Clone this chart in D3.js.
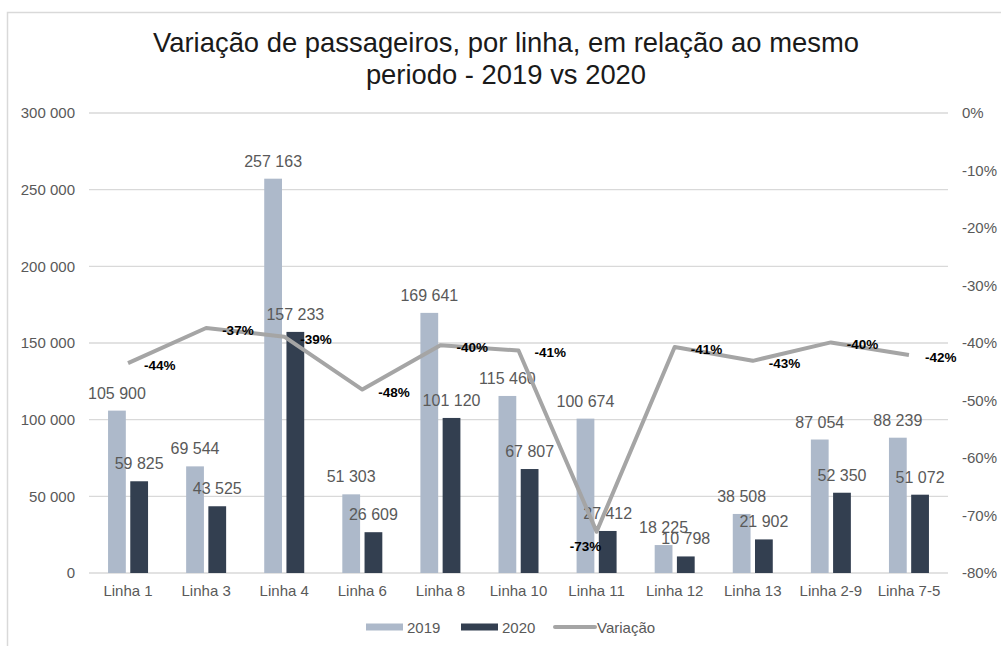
<!DOCTYPE html>
<html>
<head>
<meta charset="utf-8">
<script src="https://cdn.jsdelivr.net/npm/d3@7"></script>
<style>
  body { margin: 0; background: #fff; }
  svg { font-family: "Liberation Sans", Arial, sans-serif; }
  .tick text { fill: #595959; font-size: 15px; }
</style>
</head>
<body>
<div id="chart"></div>
<script>
// --- DADOS ---
const linhas = ["Linha 1", "Linha 3", "Linha 4", "Linha 6", "Linha 8", "Linha 10",
                "Linha 11", "Linha 12", "Linha 13", "Linha 2-9", "Linha 7-5"];
const pass2019 = [105900, 69544, 257163, 51303, 169641, 115460, 100674, 18225, 38508, 87054, 88239];
const pass2020 = [59825, 43525, 157233, 26609, 101120, 67807, 27412, 10798, 21902, 52350, 51072];
const variacao = [-0.435, -0.374, -0.389, -0.481, -0.404, -0.413, -0.728, -0.407, -0.431, -0.399, -0.421];
const ticksEsq = [0, 50000, 100000, 150000, 200000, 250000, 300000];
const ticksDir = [0, -0.1, -0.2, -0.3, -0.4, -0.5, -0.6, -0.7, -0.8];
const series = ["2019", "2020"];
const cores = { "2019": "#adb9ca", "2020": "#333f50", linha: "#a5a5a5" };

// --- CONFIGURAÇÃO ---
const W = 1001, H = 646;
const margin = { top: 113, right: 53, bottom: 73, left: 89 };
const width = W - margin.left - margin.right,
      height = H - margin.top - margin.bottom;

const svg = d3.select("#chart").append("svg")
    .attr("width", W)
    .attr("height", H);

// moldura
svg.append("rect")
    .attr("x", 7.5).attr("y", 12.5)
    .attr("width", 1200).attr("height", 800)
    .attr("fill", "none")
    .attr("stroke", "#d9d9d9")
    .attr("stroke-width", 1.5);

// título
const titulo = svg.append("text")
    .attr("text-anchor", "middle")
    .attr("font-size", 27.4)
    .attr("fill", "#1a1a1a");
titulo.append("tspan").attr("x", 506).attr("y", 52)
    .text("Variação de passageiros, por linha, em relação ao mesmo");
titulo.append("tspan").attr("x", 506).attr("y", 84)
    .text("periodo - 2019 vs 2020");

const g = svg.append("g")
    .attr("transform", `translate(${margin.left},${margin.top})`);

// --- ESCALAS ---
const x0 = d3.scaleBand().domain(linhas).range([0, width]);
const bw = x0.bandwidth();
const x1 = d3.scaleBand().domain(series)
    .range([bw / 2 - 20, bw / 2 + 20])
    .paddingInner(0.2);
const y = d3.scaleLinear().domain([0, 300000]).range([height, 0]);
const yDir = d3.scaleLinear().domain([-0.8, 0]).range([height, 0]);

// locale com hífen normal e espaço como separador de milhares
const loc = d3.formatLocale({ decimal: ",", thousands: " ", grouping: [3], currency: ["", ""], minus: "-" });
const fmtNum = loc.format(",");
const fmtPct = loc.format(".0%");

// --- EIXOS ---
const eixoEsq = g.append("g")
    .attr("transform", "translate(-14,0)")
    .call(d3.axisLeft(y).tickValues(ticksEsq).tickSize(0).tickPadding(0)
        .tickFormat(fmtNum));
eixoEsq.select(".domain").remove();

const eixoDir = g.append("g")
    .attr("transform", `translate(${width + 14},0)`)
    .call(d3.axisRight(yDir).tickValues(ticksDir).tickSize(0).tickPadding(0)
        .tickFormat(d => d === 0 ? "0%" : fmtPct(d)));
eixoDir.select(".domain").remove();

// grelha
g.append("g").selectAll("line")
  .data(ticksEsq)
  .enter().append("line")
    .attr("x1", 0).attr("x2", width)
    .attr("y1", d => y(d)).attr("y2", d => y(d))
    .attr("stroke", "#d9d9d9")
    .attr("stroke-width", 1.3);

const eixoX = g.append("g")
    .attr("transform", `translate(0,${height})`)
    .call(d3.axisBottom(x0).tickSize(0).tickPadding(12));
eixoX.select(".domain").remove();

// --- BARRAS ---
const dados = linhas.map((l, i) => ({ linha: l, "2019": pass2019[i], "2020": pass2020[i], v: variacao[i] }));

const grupos = g.selectAll(".grupo")
  .data(dados)
  .enter().append("g")
    .attr("transform", d => `translate(${x0(d.linha)},0)`);

grupos.selectAll("rect")
  .data(d => series.map(s => ({ s, val: d[s] })))
  .enter().append("rect")
    .attr("x", d => x1(d.s))
    .attr("width", x1.bandwidth())
    .attr("y", d => y(d.val))
    .attr("height", d => height - y(d.val))
    .attr("fill", d => cores[d.s]);

// --- LINHA ---
const cx = d => x0(d.linha) + bw / 2;
g.append("path")
    .datum(dados)
    .attr("fill", "none")
    .attr("stroke", cores.linha)
    .attr("stroke-width", 4)
    .attr("stroke-linejoin", "round")
    .attr("d", d3.line().x(cx).y(d => yDir(d.v)));

// rótulos das barras
grupos.selectAll(".rot")
  .data(d => series.map(s => ({ s, val: d[s] })))
  .enter().append("text")
    .attr("x", d => x1(d.s) + x1.bandwidth() / 2)
    .attr("y", d => y(d.val) - 12)
    .attr("text-anchor", "middle")
    .attr("font-size", 16)
    .attr("fill", "#595959")
    .text(d => fmtNum(d.val));

// rótulos da variação
const minV = d3.min(variacao);
g.selectAll(".rotv")
  .data(dados)
  .enter().append("text")
    .attr("x", d => d.v === minV ? cx(d) - 11 : cx(d) + 16)
    .attr("y", d => yDir(d.v) + (d.v === minV ? 19 : 7))
    .attr("text-anchor", d => d.v === minV ? "middle" : "start")
    .attr("font-size", 13.5)
    .attr("font-weight", "bold")
    .attr("fill", "#000")
    .text(d => fmtPct(d.v));

// --- LEGENDA ---
const leg = svg.append("g").attr("font-size", 15).attr("fill", "#595959");
const itens = [
  { nome: "2019", x: 366, tipo: "barra", cor: cores["2019"] },
  { nome: "2020", x: 461, tipo: "barra", cor: cores["2020"] },
  { nome: "Variação", x: 555, tipo: "linha", cor: cores.linha }
];
itens.forEach(it => {
  if (it.tipo === "barra") {
    leg.append("rect").attr("x", it.x).attr("y", 623.5)
      .attr("width", 37).attr("height", 7).attr("fill", it.cor);
  } else {
    leg.append("line").attr("x1", it.x).attr("x2", it.x + 40)
      .attr("y1", 627).attr("y2", 627)
      .attr("stroke", it.cor).attr("stroke-width", 4)
      .attr("stroke-linecap", "round");
  }
  leg.append("text").attr("x", it.x + (it.tipo === "barra" ? 41 : 42)).attr("y", 632.5)
    .text(it.nome);
});
</script>
</body>
</html>
